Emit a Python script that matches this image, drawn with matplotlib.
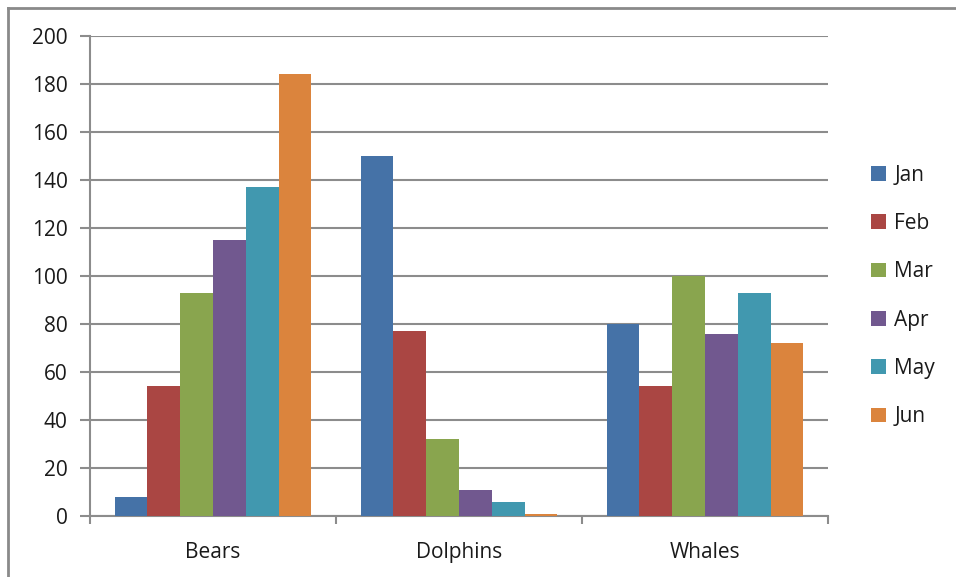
"""Clustered column chart: animals per month"""

import matplotlib
matplotlib.use('Agg')
import matplotlib.pyplot as plt
from matplotlib.lines import Line2D
from matplotlib.patches import Patch
import numpy as np

# Data
categories = ['Bears', 'Dolphins', 'Whales']
months = ['Jan', 'Feb', 'Mar', 'Apr', 'May', 'Jun']
jan = [8, 150, 80]
feb = [54, 77, 54]
mar = [93, 32, 100]
apr = [115, 11, 76]
may = [137, 6, 93]
jun = [184, 1, 72]
series = [jan, feb, mar, apr, may, jun]

colors = ['#4572A7', '#AA4643', '#89A54E', '#71588F', '#4198AF', '#DB843D']
grid_color = '#8c8c8c'
text_color = '#1a1a1a'

plt.rcParams['font.family'] = ['Open Sans', 'DejaVu Sans']

W, H = 956, 577
fig = plt.figure(figsize=(W / 100, H / 100), dpi=100)
ax = fig.add_axes([90 / W, 1 - 516 / H, (828 - 90) / W, (516 - 36) / H])

# Excel style: gap width 150% of a bar
n = len(series)
bar_w = 1.0 / (n + 1.5)
x = np.arange(len(categories))
for i, (vals, col) in enumerate(zip(series, colors)):
    offs = (i - (n - 1) / 2) * bar_w
    ax.bar(x + offs, vals, width=bar_w, color=col, label=months[i],
           edgecolor='none', zorder=3)

ax.set_xlim(-0.5, len(categories) - 0.5)
ax.set_ylim(0, 200)
ax.set_yticks(np.arange(0, 201, 20))
ax.yaxis.grid(True, color=grid_color, linewidth=1.5, zorder=0)
ax.set_axisbelow(True)

for side in ['top', 'right']:
    ax.spines[side].set_visible(False)
for side in ['left', 'bottom']:
    ax.spines[side].set_color(grid_color)
    ax.spines[side].set_linewidth(1.5)

# category labels centered, tick marks at category boundaries
ax.set_xticks(x)
ax.set_xticklabels(categories, fontsize=15, color=text_color)
ax.tick_params(axis='x', length=0, pad=19)
ax.set_xticks(np.arange(-0.5, len(categories)), minor=True)
ax.tick_params(axis='x', which='minor', length=6, width=1.5, color=grid_color,
               direction='out')
ax.tick_params(axis='y', length=7, width=1.5, color=grid_color, pad=9,
               labelsize=15, labelcolor=text_color)

# legend on the right
handles = [Patch(facecolor=c, edgecolor='none') for c in colors]
fig.legend(handles, months, loc='center left', bbox_to_anchor=(863 / W, 1 - 296 / H),
           borderaxespad=0, frameon=False, fontsize=15, handlelength=0.7,
           handleheight=0.7, handletextpad=0.4, labelspacing=1.31,
           labelcolor=text_color)

# chart border (cropped on the right and bottom)
fig.add_artist(Line2D([8 / W, 1], [1 - 8 / H, 1 - 8 / H], color='#8a8a8a',
                      linewidth=2, transform=fig.transFigure))
fig.add_artist(Line2D([8 / W, 8 / W], [0, 1 - 8 / H], color='#8a8a8a',
                      linewidth=2, transform=fig.transFigure))

fig.savefig('out.png', dpi=100)
